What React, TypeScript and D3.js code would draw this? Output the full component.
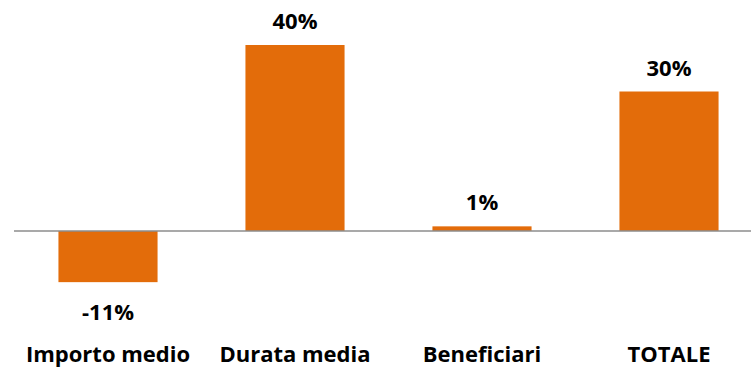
import React from 'react';
import * as d3 from 'd3';

// dati
const categories = ['Importo medio', 'Durata media', 'Beneficiari', 'TOTALE'];
const values = [-11, 40, 1, 30];
const valueLabels = ['-11%', '40%', '1%', '30%'];

const width = 751;
const height = 368;
const barColor = '#E36C0A';
const font = '"Open Sans", "Liberation Sans", sans-serif';

const App: React.FC = () => {
    // scala x: una banda per categoria, barre centrate
    const x = d3
        .scaleBand<string>()
        .domain(categories)
        .range([14.5, 762.5])
        .paddingInner(0.47)
        .paddingOuter(0.235);

    // scala y: zero a 231px, 40% a 45px
    const y = d3.scaleLinear().domain([-20, 45]).range([324, 21.75]);
    const y0 = y(0);

    return (
        <svg
            width={width}
            height={height}
            style={{ position: 'absolute', left: 0, top: 0, background: '#fff' }}
        >
            {values.map((v, i) => {
                const c = categories[i];
                const top = Math.min(y(v), y0);
                const h = Math.abs(y(v) - y0);
                return (
                    <rect key={c} x={x(c)} y={top} width={x.bandwidth()} height={h} fill={barColor} />
                );
            })}
            <line x1={14} x2={width} y1={y0} y2={y0} stroke="#8c8c8c" strokeWidth={1.5} />
            {values.map((v, i) => {
                const c = categories[i];
                const cx = x(c)! + x.bandwidth() / 2;
                const ty = v >= 0 ? y(v) - 16 : y(v) + 38;
                return (
                    <text
                        key={'l' + c}
                        x={cx}
                        y={ty}
                        textAnchor="middle"
                        fontFamily={font}
                        fontWeight="bold"
                        fontSize={22}
                        fill="#000"
                    >
                        {valueLabels[i]}
                    </text>
                );
            })}
            {categories.map((c) => (
                <text
                    key={'c' + c}
                    x={x(c)! + x.bandwidth() / 2}
                    y={362}
                    textAnchor="middle"
                    fontFamily={font}
                    fontWeight="bold"
                    fontSize={22}
                    fill="#000"
                >
                    {c}
                </text>
            ))}
        </svg>
    );
};

export default App;
